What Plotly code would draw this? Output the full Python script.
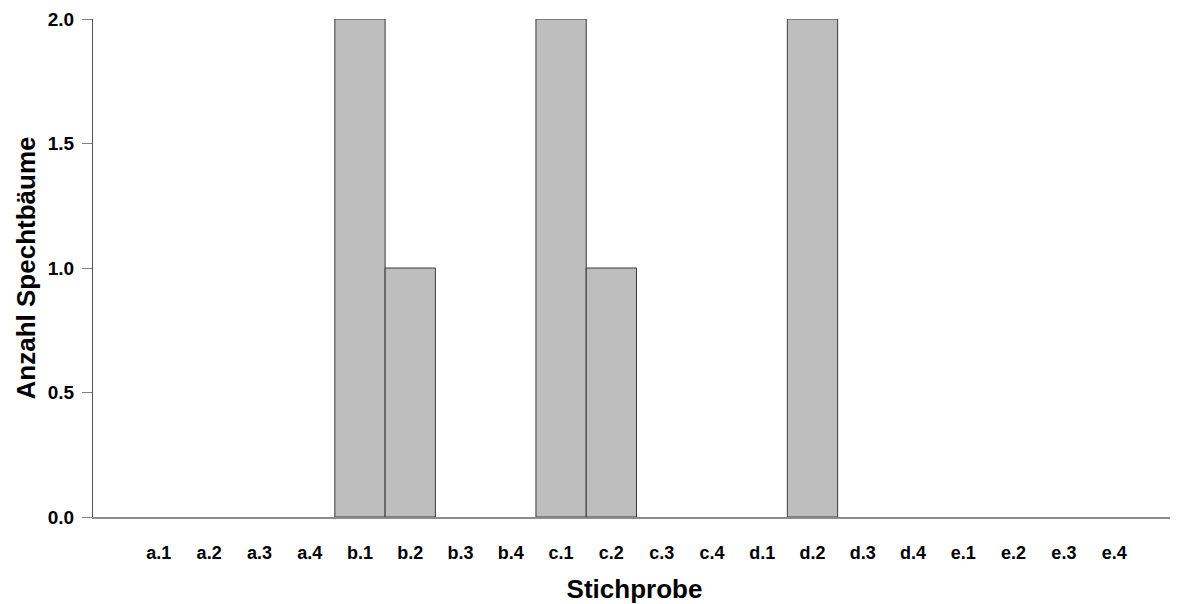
import plotly.graph_objects as go

categories = ["a.1", "a.2", "a.3", "a.4", "b.1", "b.2", "b.3", "b.4",
              "c.1", "c.2", "c.3", "c.4", "d.1", "d.2", "d.3", "d.4",
              "e.1", "e.2", "e.3", "e.4"]
values = [0, 0, 0, 0, 2, 1, 0, 0, 2, 1, 0, 0, 0, 2, 0, 0, 0, 0, 0, 0]
y_ticks = [0, 0.5, 1.0, 1.5, 2.0]
y_ticklabels = ["0.0", "0.5", "1.0", "1.5", "2.0"]

FONT = "Liberation Sans, Arial, sans-serif"

fig = go.Figure(go.Bar(
    x=list(range(len(categories))),
    y=values,
    width=1.0,
    marker=dict(color="#BEBEBE",
                line=dict(color="#3a3a3a", width=[1 if v > 0 else 0 for v in values])),
))

fig.update_layout(
    width=1170, height=596,
    margin=dict(l=85, r=2, t=11, b=87),
    plot_bgcolor="white", paper_bgcolor="white",
    showlegend=False,
    font=dict(family=FONT, color="black"),
)

fig.update_xaxes(
    range=[-1.31, 20.23],
    tickmode="array",
    tickvals=list(range(len(categories))),
    ticktext=[f"<b>{c}</b>" for c in categories],
    ticks="",
    ticklabelstandoff=18,
    tickfont=dict(size=18, family=FONT, color="black"),
    showgrid=False, zeroline=False,
    showline=True, linecolor="#8c8c8c", linewidth=2,
    title=dict(text="<b>Stichprobe</b>", font=dict(size=26, family=FONT, color="black"), standoff=21),
    automargin=False,
)

fig.update_yaxes(
    range=[0, 2.0],
    tickmode="array",
    tickvals=y_ticks,
    ticktext=[f"<b>{t}</b>" for t in y_ticklabels],
    ticks="outside", ticklen=10, tickcolor="#808080", tickwidth=1,
    ticklabelstandoff=4,
    tickfont=dict(size=19, family=FONT, color="black"),
    showgrid=False, zeroline=False,
    showline=True, linecolor="#555555", linewidth=1,
    title=dict(text="<b>Anzahl Spechtbäume</b>", font=dict(size=26, family=FONT, color="black"), standoff=4),
    automargin=False,
)

fig.write_html("out.html")
